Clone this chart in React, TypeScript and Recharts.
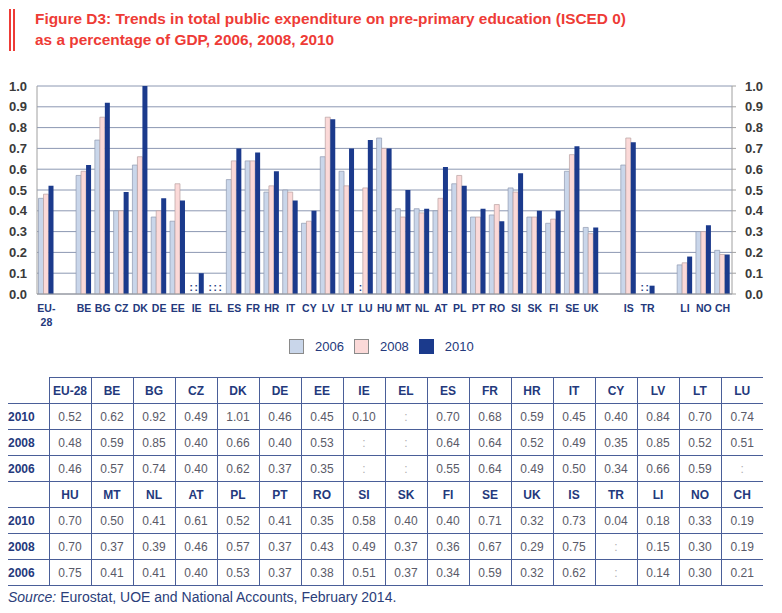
import React from "react";
import {
  Bar,
  BarChart,
  CartesianGrid,
  XAxis,
  YAxis,
} from "recharts";

// "" entries are the empty slots that separate the groups
const categories = [
  "EU-28", "", "BE", "BG", "CZ", "DK", "DE", "EE", "IE", "EL", "ES", "FR", "HR", "IT", "CY",
  "LV", "LT", "LU", "HU", "MT", "NL", "AT", "PL", "PT", "RO", "SI", "SK", "FI", "SE", "UK",
  "", "IS", "TR", "", "LI", "NO", "CH",
];

const countries = [
  "EU-28", "BE", "BG", "CZ", "DK", "DE", "EE", "IE", "EL", "ES", "FR", "HR", "IT", "CY",
  "LV", "LT", "LU", "HU", "MT", "NL", "AT", "PL", "PT", "RO", "SI", "SK", "FI", "SE", "UK",
  "IS", "TR", "LI", "NO", "CH",
];

const values2010 = [
  0.52, 0.62, 0.92, 0.49, 1.01, 0.46, 0.45, 0.1, null, 0.7, 0.68, 0.59, 0.45, 0.4,
  0.84, 0.7, 0.74, 0.7, 0.5, 0.41, 0.61, 0.52, 0.41, 0.35, 0.58, 0.4, 0.4, 0.71, 0.32,
  0.73, 0.04, 0.18, 0.33, 0.19,
];
const values2008 = [
  0.48, 0.59, 0.85, 0.4, 0.66, 0.4, 0.53, null, null, 0.64, 0.64, 0.52, 0.49, 0.35,
  0.85, 0.52, 0.51, 0.7, 0.37, 0.39, 0.46, 0.57, 0.37, 0.43, 0.49, 0.37, 0.36, 0.67, 0.29,
  0.75, null, 0.15, 0.3, 0.19,
];
const values2006 = [
  0.46, 0.57, 0.74, 0.4, 0.62, 0.37, 0.35, null, null, 0.55, 0.64, 0.49, 0.5, 0.34,
  0.66, 0.59, null, 0.75, 0.41, 0.41, 0.4, 0.53, 0.37, 0.38, 0.51, 0.37, 0.34, 0.59, 0.32,
  0.62, null, 0.14, 0.3, 0.21,
];

const yTicks = [0, 0.1, 0.2, 0.3, 0.4, 0.5, 0.6, 0.7, 0.8, 0.9, 1.0];

const series = [
  { key: "y2006", name: "2006", fill: "#c9d6ea", stroke: "#8f9ab0", vals: values2006 },
  { key: "y2008", name: "2008", fill: "#fbd9d8", stroke: "#b8a0a0", vals: values2008 },
  { key: "y2010", name: "2010", fill: "#1b3a8c", stroke: "none", vals: values2010 },
];

const NAVY = "#24397c";
const FONT = "Arial, 'Liberation Sans', sans-serif";

// m* keys: zero-height marker in the same stack, used to print ":" for "not available"
const chartData = categories.map((c, i) => {
  const row: any = { id: c === "" ? "gap" + i : c, label: c };
  const k = countries.indexOf(c);
  series.forEach((s) => {
    const v = k >= 0 ? s.vals[k] : null;
    row[s.key] = v;
    row["m" + s.key] = k >= 0 && v === null ? 0 : null;
  });
  return row;
});

const CatTick = (props: any) => {
  const { x, y, payload } = props;
  const row = chartData.find((d) => d.id === payload.value);
  const label = row ? row.label : "";
  const lines = label === "EU-28" ? ["EU-", "28"] : [label];
  return (
    <text x={x} y={y + 10} textAnchor="middle" fill={NAVY} fontSize={10.5} fontWeight="bold" fontFamily={FONT}>
      {lines.map((l, i) => (
        <tspan key={i} x={x} dy={i === 0 ? 0 : 14}>
          {l}
        </tspan>
      ))}
    </text>
  );
};

const missingShape = (key: string) => (props: any) => {
  const { x, y, width, height, payload } = props;
  if (!payload || payload["m" + key] !== 0) return <g />;
  const base = y + (height || 0);
  return (
    <text x={x + width / 2} y={base - 3} textAnchor="middle" fill={NAVY} fontSize={10} fontWeight="bold" fontFamily={FONT}>
      :
    </text>
  );
};

const fmt = (v: number | null) => (v === null ? ":" : v.toFixed(2));

const tableHalves = [countries.slice(0, 17), countries.slice(17)];
const tableRows = [
  { year: "2010", vals: values2010 },
  { year: "2008", vals: values2008 },
  { year: "2006", vals: values2006 },
];

const lineColor = "#4a5e98";

const Table = () => (
  <table
    style={{
      position: "absolute",
      left: 8,
      top: 377,
      borderCollapse: "collapse",
      tableLayout: "fixed",
      width: 755,
      fontFamily: FONT,
      fontSize: 12,
    }}
  >
    <colgroup>
      <col style={{ width: 41 }} />
      {countries.slice(0, 17).map((c) => (
        <col key={c} style={{ width: 42 }} />
      ))}
    </colgroup>
    <tbody>
      {tableHalves.map((half, h) => (
        <React.Fragment key={h}>
          <tr style={{ height: 26 }}>
            <td style={{ padding: 0, borderBottom: `1px solid ${lineColor}` }} />
            {half.map((c) => (
              <td
                key={c}
                style={{
                  padding: 0,
                  textAlign: "center",
                  fontWeight: "bold",
                  color: NAVY,
                  borderLeft: `1px solid ${lineColor}`,
                  borderTop: h === 0 ? `1px solid ${lineColor}` : undefined,
                  borderBottom: `1px solid ${lineColor}`,
                }}
              >
                {c}
              </td>
            ))}
          </tr>
          {tableRows.map((r) => (
            <tr key={r.year} style={{ height: 26 }}>
              <td style={{ padding: 0, fontWeight: "bold", color: NAVY, borderBottom: `1px solid ${lineColor}` }}>
                {r.year}
              </td>
              {half.map((c) => {
                const v = r.vals[countries.indexOf(c)];
                return (
                  <td
                    key={c}
                    style={{
                      padding: 0,
                      textAlign: "center",
                      color: v === null ? "#b0b0b0" : "#5a5a68",
                      borderLeft: `1px solid ${lineColor}`,
                      borderBottom: `1px solid ${lineColor}`,
                    }}
                  >
                    {fmt(v)}
                  </td>
                );
              })}
            </tr>
          ))}
        </React.Fragment>
      ))}
    </tbody>
  </table>
);

export default function App() {
  return (
    <div style={{ position: "absolute", left: 0, top: 0, width: 782, height: 613, background: "#fff", fontFamily: FONT }}>
      <div style={{ position: "absolute", left: 9, top: 9, width: 2, height: 42, background: "#ee3b36" }} />
      <div style={{ position: "absolute", left: 13, top: 9, width: 2, height: 42, background: "#ee3b36" }} />
      <div
        style={{
          position: "absolute",
          left: 35,
          top: 8,
          color: "#ee3b36",
          fontWeight: "bold",
          fontSize: 15.4,
          lineHeight: "21px",
        }}
      >
        Figure D3: Trends in total public expenditure on pre-primary education (ISCED 0)
        <br />
        as a percentage of GDP, 2006, 2008, 2010
      </div>

      <div style={{ position: "absolute", left: 0, top: 0 }}>
        <BarChart
          width={782}
          height={335}
          data={chartData}
          margin={{ top: 86, right: 0, left: 0, bottom: 0 }}
          barGap={0}
          barCategoryGap={1.5}
        >
          <CartesianGrid vertical={false} yAxisId="l" stroke="#8c98b2" />
          <XAxis
            dataKey="id"
            height={41}
            interval={0}
            tick={<CatTick />}
            tickLine={false}
            axisLine={{ stroke: "#9a9a9a" }}
          />
          <YAxis
            yAxisId="l"
            width={37}
            domain={[0, 1]}
            ticks={yTicks}
            interval={0}
            allowDataOverflow
            tickFormatter={(v: number) => v.toFixed(1)}
            tickLine={false}
            tickSize={0}
            tickMargin={10}
            axisLine={{ stroke: "#a0a0a0" }}
            tick={{ fill: "#3a3a3a", fontSize: 13, fontWeight: "bold", fontFamily: FONT }}
          />
          <YAxis
            yAxisId="r"
            orientation="right"
            width={50}
            domain={[0, 1]}
            ticks={yTicks}
            interval={0}
            allowDataOverflow
            tickFormatter={(v: number) => v.toFixed(1)}
            tickSize={4}
            tickMargin={9}
            tickLine={{ stroke: "#a0a0a0" }}
            axisLine={{ stroke: "#a0a0a0" }}
            tick={{ fill: "#3a3a3a", fontSize: 13, fontWeight: "bold", fontFamily: FONT }}
          />
          {series.map((s) => (
            <Bar
              key={s.key}
              yAxisId="l"
              stackId={s.key}
              dataKey={s.key}
              name={s.name}
              fill={s.fill}
              stroke={s.stroke}
              strokeWidth={0.7}
              isAnimationActive={false}
            />
          ))}
          {series.map((s) => (
            <Bar
              key={"m" + s.key}
              yAxisId="l"
              stackId={s.key}
              dataKey={"m" + s.key}
              fill="none"
              legendType="none"
              shape={missingShape(s.key)}
              isAnimationActive={false}
            />
          ))}
        </BarChart>
      </div>

      <div
        style={{
          position: "absolute",
          left: 289,
          top: 339,
          display: "flex",
          alignItems: "center",
          fontSize: 13,
          color: NAVY,
          fontFamily: FONT,
        }}
      >
        {series.map((s) => (
          <div key={s.key} style={{ display: "flex", alignItems: "center", marginRight: 10 }}>
            <div
              style={{
                width: 15,
                height: 15,
                background: s.fill,
                border: `1px solid ${s.key === "y2010" ? s.fill : "#8a8a8a"}`,
                boxSizing: "border-box",
                marginRight: 11,
              }}
            />
            <span>{s.name}</span>
          </div>
        ))}
      </div>

      <Table />

      <div style={{ position: "absolute", left: 8, top: 589, fontSize: 14, color: "#2b3e7a", fontFamily: FONT }}>
        <i>Source:</i> Eurostat, UOE and National Accounts, February 2014.
      </div>
    </div>
  );
}
